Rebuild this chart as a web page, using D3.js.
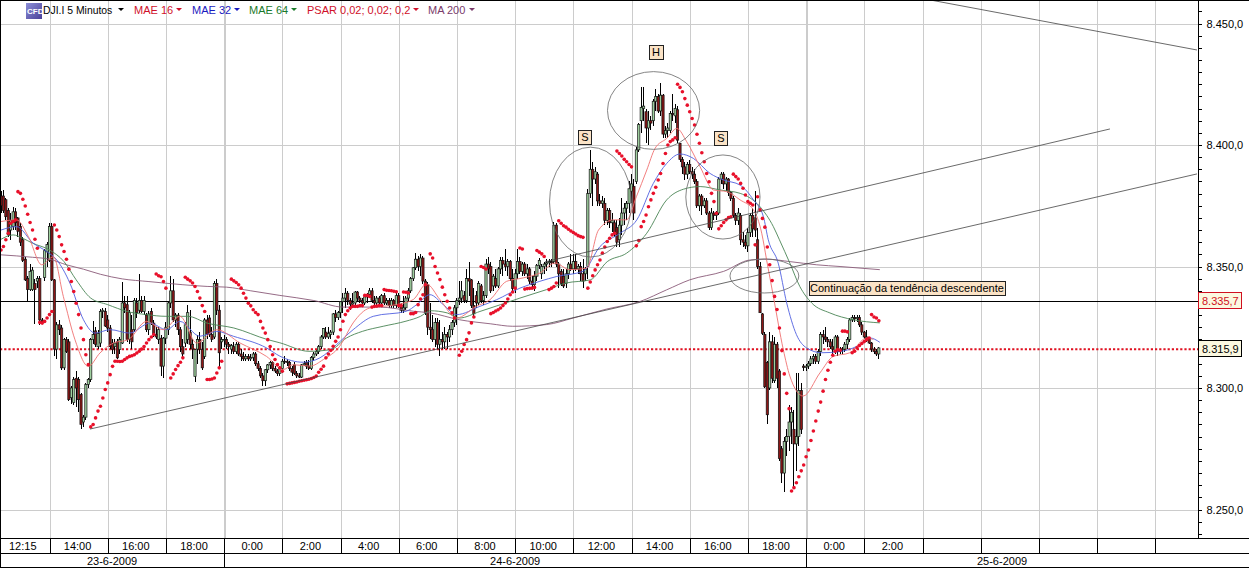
<!DOCTYPE html>
<html><head><meta charset="utf-8">
<script src="https://cdn.jsdelivr.net/npm/d3@7"></script>
<style>html,body{margin:0;padding:0;background:#fff;overflow:hidden}svg{display:block;font-family:"Liberation Sans",Arial,sans-serif}</style>
</head><body><svg id="c" width="1249" height="568"></svg>
<script>
const timeTicks=["14:00","16:00","18:00","0:00","2:00","4:00","6:00","8:00","10:00","12:00","14:00","16:00","18:00","0:00","2:00","","","","",""];
const firstLabel="12:15";
const dateLabels=["23-6-2009","24-6-2009","25-6-2009"];
const dateBreaks=[21+24*3,21+24*13];
const priceTicks=[8250,8300,8350,8400,8450];
const lastPrice=8335.7, bidPrice=8315.9;
const legendItems=[["MAE 16","#d0102a"],["MAE 32","#1a1ac0"],["MAE 64","#1a7a2a"],["PSAR 0,02; 0,02; 0,2","#d0102a"],["MA 200","#7a3a6a"]];
// open, high, low, close per 5-minute bar, starting at bar 1
const bars=[
[8379,8381,8372,8375],[8379,8381.5,8372,8373],[8377.5,8378,8369,8370.5],[8373,8374,8362,8363],[8365,8372,8361,8369],[8366.5,8374.5,8365,8372.5],[8372.5,8374,8365,8368],[8370,8370.5,8362,8364.5],
[8366.5,8368,8358.5,8360],[8361,8362,8352,8352.5],[8353,8354,8344,8344.5],[8345,8346,8336,8340.5],[8340.5,8351,8340,8348],[8340.5,8350,8340,8348.5],[8343,8345,8326.5,8340.5],[8344,8346,8341,8345],
[8345,8346,8326,8328],[8328,8329,8326.5,8327],[8345.5,8357,8344,8356.5],[8356,8360,8350,8359],[8352.5,8368,8352,8366.5],[8366.5,8368,8344,8344.5],[8344.5,8345,8313,8316],[8316,8327,8312,8326],
[8326,8328,8322,8324],[8324.7,8326,8307.5,8308.3],[8308.3,8320.5,8307.5,8320],[8320,8321,8314.5,8315],[8319,8320,8294.5,8295.2],[8296,8301,8293.5,8300],[8294,8304.5,8293,8303.5],[8304,8307,8292,8300],
[8303.5,8304.5,8290,8295.2],[8297.3,8298,8283,8285],[8286,8289,8284,8288],[8288,8302,8287,8301.5],[8301.5,8304,8300,8303.5],[8303.5,8320.5,8302.5,8319.9],[8320,8327.5,8318,8322],[8323.5,8325,8317,8318],
[8317,8324,8316,8322.5],[8318.5,8332.5,8317,8331.5],[8331.5,8333,8329,8332],[8331.5,8333,8325,8325.5],[8328,8330,8323,8324.7],[8324.7,8326,8316,8317],[8318.5,8320,8314,8315.8],[8317,8320,8314,8318.5],
[8319,8320,8312,8312.4],[8315.8,8321,8314,8320],[8318.5,8343.8,8318,8335],[8335,8338,8331,8333],[8334.3,8337.7,8319,8320],[8320,8332,8318,8331],[8324,8330,8316,8319],[8324,8337,8323,8336],
[8335,8337,8329,8331],[8332,8347,8331,8336],[8336,8338,8331,8331.5],[8331.5,8338,8330,8336],[8330,8331,8323,8324],[8324,8331.5,8322,8330.5],[8331.5,8333,8326,8327],[8326.7,8328,8321,8322],
[8322,8325,8320,8321],[8320,8325,8318,8324],[8320.5,8322,8305,8309],[8309,8321,8304,8320.5],[8320.5,8327,8318,8325],[8324,8336,8322,8335],[8335,8346,8333,8340],[8340,8345,8327,8328],
[8328,8331,8325,8330],[8330,8331,8322,8324],[8324,8325,8315,8317],[8317,8320,8312,8314],[8318.5,8327,8317,8326],[8320,8334,8318,8331],[8323,8332,8316,8318],[8318,8320,8312,8316],
[8304.8,8316,8302.5,8315.8],[8316,8322,8310,8319.9],[8319.9,8323,8314,8315.8],[8315.8,8319,8307.5,8308.3],[8313,8329,8312,8328],[8328,8330,8320,8322],[8328.8,8330,8321,8322],[8322,8325,8319,8320],
[8321,8344,8320,8343],[8343,8345,8330,8332],[8332,8334,8308,8314.5],[8319,8321,8316,8320],[8320,8322,8317,8320],[8320,8321,8316,8318],[8318,8319,8314,8317],[8316,8318,8314,8317.5],
[8317,8319,8314,8315],[8315,8319,8314,8318],[8318,8319,8313,8314],[8314,8316,8311,8313],[8313,8315,8311,8312],[8312,8314,8311,8313],[8313,8314,8311,8312],[8312,8314,8311,8312.5],
[8312.5,8315,8311,8314],[8314,8315,8309,8310],[8310,8311,8307,8308],[8308,8309,8304,8305],[8305,8306,8301,8303],[8303,8308,8301,8307.5],[8307.5,8310,8306,8309.5],[8309.5,8311,8308,8310.5],
[8310.5,8311,8307,8308],[8308,8309,8306,8307],[8307,8308,8305,8306],[8306,8309,8305,8308.5],[8308,8312,8306,8311],[8311,8313,8310,8311],[8311,8312,8309,8310.5],[8310.5,8311,8307,8308],
[8308,8309,8305,8306.5],[8309.5,8310.5,8305.5,8306],[8306,8307,8304,8305],[8305,8306,8304,8304.5],[8304.5,8310,8304,8309.5],[8309.5,8311,8309,8310],[8310.5,8311.5,8308,8309],[8309,8311.5,8307.5,8308],
[8308,8313,8307.5,8312.5],[8312.5,8315,8311,8314],[8314,8315.5,8313,8315],[8315,8317.5,8314,8317],[8317,8322,8316,8321],[8321,8324.5,8320,8324.5],[8323,8325,8320,8321],[8321,8325,8320,8322.5],
[8322,8324,8320,8323],[8323,8331,8322,8330.5],[8330.5,8332,8327,8329],[8329,8331.5,8328,8331],[8331,8336,8329,8335.5],[8335.5,8339,8331,8337],[8337,8341,8333,8339],[8339,8340,8334,8336],
[8336,8337,8332,8334.5],[8334.5,8339,8333,8335],[8335,8340,8334,8339.5],[8339.5,8340,8336,8337],[8337,8338,8335,8336],[8336,8337,8334,8335],[8335,8338,8334,8337.5],[8337.5,8339,8335,8338.5],
[8338.5,8341,8337,8340],[8340,8341,8335,8336],[8336,8338,8334,8335],[8335,8338,8334,8337],[8337,8338,8334,8335],[8335,8338.5,8334,8338],[8338,8339,8334,8335],[8335,8337,8334,8336],
[8336,8337,8333,8334],[8334,8337,8333,8336],[8336,8336.5,8333,8334],[8334,8339,8333,8338],[8338,8339,8333,8334],[8334,8335,8331,8332],[8332,8338,8331,8333],[8333,8338,8332,8337],
[8337,8341,8336,8340],[8340,8345.5,8339,8345],[8345,8350,8344,8349.5],[8349.5,8355.5,8348.5,8353],[8353,8354.5,8348,8350],[8350,8355,8346,8353.5],[8353.5,8354.5,8343,8344],[8344,8345,8330,8331],
[8342.5,8343.5,8322,8325],[8325,8335,8320,8324],[8324,8330,8319,8320],[8320,8329,8317,8327],[8327,8329,8316,8318],[8318,8328,8313,8320],[8320,8323,8316,8319],[8319,8325,8316,8322],
[8322,8323,8316,8321],[8321,8326,8319,8324],[8324,8328,8322,8327],[8327,8334,8325,8333],[8333,8337,8326,8336],[8336,8344,8334,8337],[8337,8344,8335,8340],[8338,8340,8335,8336],
[8336,8349,8335,8345],[8345,8352,8338,8344],[8344.5,8345,8333,8334],[8334,8341,8329,8330.5],[8338,8340,8333,8335],[8335,8344,8334,8343],[8342,8343,8335,8336],[8336,8340,8334,8338],
[8338,8353,8337,8351],[8351,8354,8347,8349],[8350,8352,8339,8340],[8342,8347,8340,8346],[8345,8349,8341,8342],[8342,8350,8341,8349],[8349,8354,8347,8352.5],[8352.5,8354,8346,8351],
[8351,8357,8348,8350],[8350,8353,8346,8352],[8352,8352.5,8344,8345],[8345,8349,8340,8341],[8341,8349,8339,8347],[8347,8357,8345,8352],[8352,8354,8347,8348],[8348,8352,8346,8351],
[8351,8352,8346,8347],[8347,8351,8345,8349],[8349,8350,8343,8344],[8344,8346,8341,8342.5],[8342.5,8348,8340,8346],[8346,8351,8344,8350.5],[8350.5,8353.5,8349,8352.5],[8347,8351,8345,8350],
[8350,8352,8347,8351],[8351,8353,8348,8351.5],[8351.5,8353,8350,8352],[8352,8353,8350,8351.5],[8352,8368.5,8351,8367],[8367,8368,8350,8351],[8351,8352,8341,8347],[8348,8349,8342,8343],
[8346,8349,8341,8342],[8343,8349,8341,8347],[8347,8352,8345,8351],[8351,8355,8348,8349],[8349,8355,8347,8352],[8352,8355,8348,8349],[8349,8351,8347,8350],[8350,8352,8344,8347],
[8347,8353,8341,8344],[8347,8350,8344,8349],[8350,8382,8345,8380],[8380,8398,8378,8390],[8390,8393,8375,8386],[8386,8391,8384,8389],[8388,8389,8375,8377],[8377,8380,8375,8376],
[8376,8379,8374,8377],[8376,8378,8367,8369],[8369,8374,8367,8373],[8373,8374,8366,8368],[8368,8372,8364,8369],[8368,8369,8362,8364],[8366,8369,8358,8360],[8361,8370,8358,8367],
[8367,8378,8363,8372],[8372,8376,8367,8374],[8374,8377,8369,8376],[8376,8385,8372,8382],[8381,8388,8376,8384],[8383,8386,8369,8372],[8385,8399,8384,8398],[8398,8409,8397,8408.5],
[8410,8424,8405,8415.5],[8415,8424,8410,8416],[8413.7,8415,8401,8407],[8407,8414,8400,8410],[8410,8412,8406,8409],[8410,8419,8408,8418],[8418,8423,8414,8420],[8420,8421,8413,8414],
[8414,8425.5,8412,8420.5],[8420.5,8421,8403,8404.5],[8404.5,8408,8403,8406],[8406,8409,8403,8407],[8406,8414,8405,8413],[8413,8421,8410,8412.5],[8412,8417,8409,8415],[8414.5,8416,8401,8402],
[8400.7,8401,8393,8394],[8394,8395,8388,8391],[8391,8393,8385.5,8388],[8388,8393,8386,8392],[8392,8394,8388,8389],[8389,8391,8386,8388],[8388,8390,8384,8385],[8385,8386,8374,8375],
[8375,8380,8373,8379],[8379,8380,8371,8375],[8375,8378,8374,8377],[8377,8378,8371,8372],[8372,8373,8365,8366],[8366,8374,8365,8372],[8372,8373,8369,8371],[8371,8373,8369,8372],
[8372,8387,8371,8386],[8386,8389,8384,8388],[8388,8389,8382,8384],[8384,8387,8381,8386],[8386,8386.5,8379,8380.5],[8380.5,8381,8377,8378],[8378,8379,8370,8371],[8371,8372,8367,8369],
[8369,8374,8367,8372],[8371,8372,8359,8361],[8361,8364,8358,8360],[8360,8363,8357,8358.5],[8358.5,8366,8356,8364],[8364,8372,8362,8371],[8371,8374,8362,8365.5],[8370,8381,8362,8365],
[8361,8366,8349,8350],[8350,8352,8331,8331],[8330.5,8331,8322,8322.5],[8322,8323,8300,8300.5],[8310.5,8311,8285,8289],[8300,8323,8299,8319],[8319,8322,8302,8304],[8303,8321,8302,8318],
[8318,8319,8300,8304],[8307,8308,8270,8271],[8275,8276,8261,8265],[8265,8280,8257,8278],[8278,8283,8272,8280],[8280,8293,8274,8286],[8286,8292,8277,8290],[8283,8291,8259,8277],
[8277,8306,8266,8280],[8280,8306,8276,8299],[8299,8302,8281,8283],[8309,8310,8307,8308.5],[8308.5,8310,8307,8309],[8309,8311,8308,8310],[8310,8313,8309,8312],[8312,8314,8310,8313],
[8313,8314,8310,8311],[8311,8316,8310,8315],[8315,8323,8313,8322],[8322,8324,8318,8321],[8321,8325,8319,8320],[8320,8321,8317,8319],[8319,8320,8316,8317],[8317,8320,8314,8316],
[8315,8322,8314,8321],[8321,8322,8313,8315],[8315,8317,8314,8316],[8316,8317,8314,8316],[8316,8319,8315,8318],[8318,8321,8316,8320],[8320,8329,8319,8328],[8328,8330,8327,8329],
[8329,8330,8327,8328.5],[8328.5,8330,8327,8329],[8329,8330,8325,8326],[8326,8327,8322,8323],[8323,8323.5,8320,8321],[8321,8324,8319,8320],[8320,8321,8318,8318.5],[8318.5,8319,8315,8316],
[8316,8317,8314,8315],[8315,8316,8313,8314],[8314,8317,8312,8316.5]];
const firstBar=1;
// moving averages: [bar index, price] pairs
const mae16=[[1,8368.5],[7.4,8369.2],[12.3,8362.3],[17.8,8350.7],[22.6,8354],[26.7,8337.7],[31.5,8319.9],[37,8308.9],[41.8,8314.4],[47.3,8318.5],[53.5,8319.9],[61,8327.4],[67.9,8324],[74.8,8329.5],[81.7,8318.5],[90,8324],[99.6,8318.5],[110.5,8313],[117.4,8307.6],[121.5,8309.6],[128.4,8309],[133.9,8311.7],[140.7,8317.2],[146.2,8326.8],[153,8332.9],[164,8334.3],[171,8336.4],[176.5,8342.8],[182,8336.4],[188.9,8328.8],[197,8333.6],[202.6,8336.3],[209.5,8343.9],[216.3,8345.3],[223.2,8347.3],[229.4,8351.4],[235.6,8348.7],[242.5,8349.3],[247.4,8365],[253.5,8369.2],[259,8369.2],[263,8378.7],[267.3,8389.7],[270.7,8398.6],[275.5,8402.7],[279.7,8406.8],[283.8,8401.3],[289.3,8391],[294.8,8381.5],[300.3,8380.8],[305.8,8377.4],[311.3,8373.3],[314.7,8363.7],[316.7,8352.8],[319.5,8337.7],[323.6,8315.8],[326.3,8304.9],[331.8,8296.7],[338.7,8306.2],[344.2,8313],[351,8314.5],[358,8320.6],[360.7,8320]];
const mae32=[[1,8365],[7.4,8366.4],[14.3,8359.6],[19.8,8356.2],[24,8352.7],[29.4,8343.2],[35,8328.1],[39.8,8322.6],[46,8324],[54,8322.6],[62.4,8326.7],[69.3,8324],[74.8,8327.4],[83,8321.3],[90,8323.3],[96.8,8321.3],[110.5,8316.5],[116,8313.1],[125.6,8310.6],[132.5,8312.4],[139.4,8317.9],[146.2,8324],[154.5,8329.5],[168.2,8331.6],[172.4,8334.3],[177.9,8338.4],[183.4,8334.3],[188.9,8330.2],[198.5,8333.6],[205.3,8336.3],[215,8341.1],[223.2,8343.9],[230.2,8345.9],[241,8348],[248,8358.2],[256.3,8363.7],[263.2,8369.2],[270,8384.2],[275.5,8392.4],[281,8396.3],[286.5,8394.5],[293.4,8388.3],[299,8385.6],[305.8,8383.5],[311.3,8377.4],[315.4,8370.5],[317.4,8361],[321.5,8351.4],[325,8335],[329,8322],[333.2,8316.5],[339.4,8314.5],[347,8315],[354,8317.2],[359.3,8320.6],[363.4,8318.8]];
const mae64=[[1,8361.2],[6,8363],[10,8361.6],[14,8359.6],[21,8356.8],[27,8352],[32,8344.5],[38,8337],[45,8334.3],[53,8331.5],[61,8330.2],[69,8329.5],[78,8329.5],[86,8326.7],[97,8324.7],[111,8319.9],[116,8318.6],[128,8315.1],[137,8315.8],[143.5,8320.6],[150,8323.3],[158.6,8325.4],[168,8327.5],[174,8329.5],[178,8331.8],[185,8330.9],[190,8328.8],[198.5,8331.5],[207,8334.3],[215,8337],[226,8340.5],[234,8343.2],[244,8344.5],[251,8352],[259,8355.5],[267.3,8363.7],[275.5,8377.4],[282.4,8381.8],[289.3,8382.9],[297.5,8381.5],[305.8,8380.1],[314,8374.6],[319.5,8366.4],[322,8361],[326.3,8351.4],[330.4,8341.8],[335.3,8335],[342.8,8330.9],[352.4,8328.1],[363.4,8326.8]];
const ma200=[[1,8354.8],[14,8353.8],[21,8353],[28,8350.7],[35,8348.9],[42,8346.8],[51,8344.9],[62,8343.8],[76,8342.5],[86,8341.8],[94,8341.5],[104,8340],[116,8338.1],[130,8336],[142,8333.3],[157,8333.3],[171,8331.6],[178,8330.9],[190,8328.1],[203,8326.4],[212,8325.4],[226,8326.1],[237,8328.8],[250.8,8332.5],[264.5,8335.6],[275.5,8340.4],[285,8344.5],[299,8348],[310,8352.7],[316.8,8353],[326.4,8352],[337.4,8350.7],[347,8350],[363.4,8348.7]];
// parabolic SAR: [first bar, values of consecutive bars]
const psarRuns=[
[1,[8356.8,8358.2,8361,8363.7,8367.8,8368.5,8369.2]],
[8,[8380.8,8380.1,8377.7,8374.9,8371.5,8368.1,8365,8361.2,8357.5]],
[17,[8327,8326.7,8327.4,8328.8,8330.2,8331.5]],
[23,[8367.1,8365,8362.3,8358.9,8356.2,8353,8348.9,8343.8,8339.7,8334.9,8330.2,8324.7,8319.9,8313.7,8309.6]],
[38,[8284,8285,8287.7,8290.5,8292.5,8295.9,8299.4,8302.1,8305.5,8308.9,8311,8311,8310.9,8311,8311.7,8312.4,8313,8313.3,8313.7,8314.4,8315.1,8316,8317.1,8318.5,8319.9,8321,8322]],
[65,[8346.9,8346.2,8345.8,8343.8,8341.1]],
[71,[8304.1,8305.8,8307.6,8309.2,8310.6,8312.4]],
[77,[8345.6,8344.8,8344.1,8343.2,8341.8,8339.7,8337,8333.9,8331.5]],
[86,[8303.5,8303.5,8303.7,8304.1,8306.2,8308.3,8311]],
[96,[8344.8,8344.1,8343.4,8342.5,8341.1,8339,8337,8334.9,8333.8,8332.2,8331.1,8330.2,8327.4,8324.7,8322.6,8319.9,8317.1,8313.7,8311.7,8309.6,8308.3,8306.9]],
[119,[8301.7,8301.9,8302.1,8302.3,8302.5,8302.8,8303,8303.2,8303.4,8303.6,8303.9,8304.3,8304.9,8306.5,8307.7,8309,8312.4,8314,8315.5,8317.2,8319.2,8321,8324,8327.5,8330.2,8331.8,8332.9,8333.6,8333.6,8333.6,8333.9,8333.9]],
[151,[8338.1,8338.1,8337.7]],
[154,[8333.3,8333.6,8333.7,8333.9,8333.9]],
[159,[8340.5,8340.2,8340.1,8340,8339.8,8339.6]],
[165,[8333.9,8333.9]],
[167,[8339.5,8339.4,8339.1]],
[170,[8330.6,8330.6,8331.1,8334.3,8336.6,8338.4,8342.5]],
[178,[8355.2,8353.5,8350,8347.3,8344.6,8341.5,8338.4,8335.7,8332.9,8330.9,8328.8]],
[190,[8313.5,8315.1,8317.9,8319.9,8322.7,8326.8,8329.2]],
[199,[8350,8349.6,8349]],
[203,[8330.6,8331.1,8331.7,8332.2,8332.9,8333.9,8335,8336.6,8338.4,8339.5,8341.1]],
[215,[8357.6,8357.2]],
[217,[8340.7,8340.9,8341,8341.1,8341.4]],
[222,[8356.6,8355.9,8355.2,8354.1]],
[227,[8340.5,8341.1,8341.8,8343.2]],
[231,[8368.8,8367.8,8366.8,8366.2,8365.3,8364.6,8364,8363.4,8362.7,8362.3,8362]],
[243,[8341.1,8343.6,8346.2,8348.6,8350.7,8352.7,8355.5,8358,8360.3,8361.6,8363,8363.7]],
[255,[8397.5,8396.5,8395.5,8394.1,8393.1,8392,8391]],
[263,[8358.5,8360.7,8366.4,8368.5,8371.2,8374.6,8377.4,8380.1,8382.6,8385.6,8388.3,8392.4,8396.5,8400,8401.4,8402.1,8403]],
[280,[8425,8423.7,8421.9,8419.1,8416.4,8413.7,8410.9,8408.2,8404.4,8400.7,8396.8,8393.1,8388.3,8384.9,8380.1,8376.7,8371.9]],
[297,[8365.5,8366.8,8368.1,8369.2,8370.1,8370.5]],
[303,[8388,8387,8386,8384.2,8382.2,8379.4,8376.7,8376,8375.3]],
[312,[8358.9]],
[313,[8378.7,8373.3,8369.8,8366.2,8358,8350.7,8344.2,8337.7,8332.3,8324.7,8315.4,8305.8,8297.8,8291.5]],
[327,[8257.6,8259,8261,8263.5,8265.9,8268.3,8271.7,8274.5,8278.4,8282.3,8286.4,8290.5,8294.2,8298.7,8303.5,8307.3,8310.6,8313.5,8315.1,8315.8,8315.5]],
[348,[8323.4,8323.4,8323.1]],
[352,[8314.5,8315.1,8316.5,8317.5,8318.3,8319.1,8319.9,8320.6]],
[360,[8330.2,8329.2,8328.8,8327.7]]];
// drawn objects, in bar index and price
const trendLines=[[37.7,8283.1,494.2,8388.1],[225.3,8351.9,458.3,8406.6],[384.1,8459.7,494.2,8439.1]];
const ellipses=[[244.1,8376.5,16.9,22.6],[270.1,8414.2,19,16],[298.7,8378.6,15.3,17.3],[315.8,8346.1,14.2,7]];
const notes=[["S",241.8,8403.3,"middle"],["H",271.1,8438.3,"middle"],["S",297.9,8402.9,"middle"],["Continuação da tendência descendente",334.6,8341.2,"start"]];

const W=1249,plotR=1198,plotB=538,row2=553,H=567;
const x=d3.scaleLinear().domain([21,21+24*20]).range([49.5,49.5+58.2*20]);
const y=d3.scaleLinear().domain([8250,8450]).range([509.5,23.5]);
const svg=d3.select("#c");
const px=v=>Math.round(v)+.5;
const grid=svg.append("g").attr("shape-rendering","crispEdges");
const tickIdx=timeTicks.map((_,k)=>21+24*k);
grid.selectAll("line.v").data(tickIdx).join("line").attr("x1",d=>px(x(d))).attr("x2",d=>px(x(d))).attr("y1",0).attr("y2",plotB).attr("stroke","#cccccc").attr("stroke-width",d=>dateBreaks.includes(d)?2:1);
grid.selectAll("line.h").data(priceTicks).join("line").attr("x1",0).attr("x2",plotR).attr("y1",d=>px(y(d))).attr("y2",d=>px(y(d))).attr("stroke","#cccccc");
// price reference lines
svg.append("line").attr("x1",0).attr("x2",plotR).attr("y1",px(y(lastPrice))).attr("y2",px(y(lastPrice))).attr("stroke","#000").attr("shape-rendering","crispEdges");
svg.append("line").attr("x1",0).attr("x2",plotR).attr("y1",y(bidPrice)).attr("y2",y(bidPrice)).attr("stroke","#e01020").attr("stroke-width",2).attr("stroke-dasharray","2.2 2");
// candles
const data=bars.map((b,k)=>({i:firstBar+k,o:b[0],h:b[1],l:b[2],c:b[3]}));
const cg=svg.append("g");
const wx=d=>Math.round(x(d.i)-0.5)+.5;
cg.selectAll("line").data(data).join("line").attr("x1",wx).attr("x2",wx).attr("y1",d=>y(d.h)).attr("y2",d=>y(d.l)).attr("stroke","#000").attr("shape-rendering","crispEdges");
cg.selectAll("rect").data(data).join("rect").attr("x",d=>x(d.i)-1.1).attr("width",2.2)
 .attr("y",d=>y(Math.max(d.o,d.c))).attr("height",d=>Math.max(.8,Math.abs(y(d.o)-y(d.c))))
 .attr("fill",d=>d.c>=d.o?"#9fd09f":"#8e1616").attr("stroke","#111").attr("stroke-width",.7);
// moving averages
const line=d3.line().x(d=>x(d[0])).y(d=>y(d[1])).curve(d3.curveMonotoneX);
[[ma200,"#8a5a78"],[mae64,"#4a8555"],[mae32,"#5060e0"],[mae16,"#ef7070"]].forEach(([s,col])=>{
 svg.append("path").attr("d",line(s)).attr("fill","none").attr("stroke",col).attr("stroke-width",.9);
});
// PSAR
const psar=psarRuns.flatMap(([s,v])=>v.map((p,k)=>[s+k,p]));
svg.append("g").selectAll("circle").data(psar).join("circle").attr("cx",d=>x(d[0])).attr("cy",d=>y(d[1])).attr("r",1.8).attr("fill","#e8102a");
// trend lines and ellipses
svg.append("g").selectAll("line").data(trendLines).join("line").attr("x1",d=>x(d[0])).attr("y1",d=>y(d[1])).attr("x2",d=>x(d[2])).attr("y2",d=>y(d[3])).attr("stroke","#444").attr("stroke-width",.8);
svg.append("g").selectAll("ellipse").data(ellipses).join("ellipse").attr("cx",d=>x(d[0])).attr("cy",d=>y(d[1])).attr("rx",d=>x(d[2])-x(0)).attr("ry",d=>y(8300-d[3])-y(8300)).attr("fill","none").attr("stroke","#666").attr("stroke-width",.8);
// notes
const ng=svg.append("g");
notes.forEach(n=>{
 const g=ng.append("g");
 const t=g.append("text").attr("x",x(n[1])).attr("y",y(n[2])).attr("text-anchor",n[3]).attr("dominant-baseline","central").attr("font-size",11).attr("fill","#000").text(n[0]);
 const b=t.node().getBBox();
 const padX=n[3]=="start"?1:3;
 g.insert("rect","text").attr("x",Math.round(b.x-padX)+.5).attr("y",Math.round(y(n[2])-7)+.5).attr("width",Math.round(b.width+padX*2)).attr("height",14).attr("fill","#fbe3c6").attr("stroke","#222").attr("shape-rendering","crispEdges");
});
// clear axis zones
svg.append("rect").attr("x",plotR+1).attr("y",0).attr("width",W-plotR).attr("height",plotB).attr("fill","#fff");
svg.append("rect").attr("x",0).attr("y",plotB).attr("width",W).attr("height",H-plotB+1).attr("fill","#fff");
// right axis
const f=d3.formatLocale({decimal:",",thousands:".",grouping:[3],currency:["",""]}).format(",.1f");
const minor=d3.range(8235,8460,5).filter(v=>y(v)>2&&y(v)<plotB);
const ax=svg.append("g").attr("transform",`translate(${plotR+.5},0)`);
ax.call(d3.axisRight(y).tickValues(minor).tickSize(3).tickFormat(""));
ax.select(".domain").remove();
ax.attr("shape-rendering","crispEdges");
svg.append("line").attr("x1",plotR+.5).attr("x2",plotR+.5).attr("y1",0).attr("y2",plotB).attr("stroke","#000").attr("shape-rendering","crispEdges");
const labAx=svg.append("g").attr("transform",`translate(${plotR+.5},0)`).call(d3.axisRight(y).tickValues(priceTicks).tickSize(3).tickPadding(5).tickFormat(f));
labAx.select(".domain").remove();
labAx.selectAll("text").attr("font-size",11).attr("font-family",'"Liberation Sans",Arial,sans-serif').attr("fill","#000");
labAx.attr("shape-rendering","crispEdges");
[[lastPrice,"#d01020"],[bidPrice,"#000"]].forEach(([v,c])=>{
 const yy=Math.round(y(v));
 svg.append("rect").attr("x",plotR+.5).attr("y",yy-8.5).attr("width",43).attr("height",16).attr("fill","#fbf8e0").attr("stroke",c).attr("shape-rendering","crispEdges");
 svg.append("text").attr("x",plotR+4).attr("y",yy).attr("dominant-baseline","central").attr("font-size",11).attr("fill",c).text(f(v));
});
// frame
const fr=svg.append("g").attr("shape-rendering","crispEdges").attr("stroke","#000");
fr.append("line").attr("x1",0).attr("x2",W).attr("y1",.5).attr("y2",.5);
fr.append("line").attr("x1",.5).attr("x2",.5).attr("y1",0).attr("y2",H+1);
fr.append("line").attr("x1",0).attr("x2",W).attr("y1",plotB+.5).attr("y2",plotB+.5);
fr.append("line").attr("x1",0).attr("x2",W).attr("y1",row2+.5).attr("y2",row2+.5);
fr.append("line").attr("x1",0).attr("x2",W).attr("y1",H+.5).attr("y2",H+.5);
fr.selectAll("line.tk").data(tickIdx).join("line").attr("x1",d=>px(x(d))).attr("x2",d=>px(x(d))).attr("y1",plotB).attr("y2",row2);
fr.selectAll("line.dk").data(dateBreaks).join("line").attr("x1",d=>px(x(d))).attr("x2",d=>px(x(d))).attr("y1",row2).attr("y2",H);
// bottom labels
const tl=svg.append("g").attr("font-size",11).attr("fill","#000").attr("text-anchor","middle");
tl.append("text").attr("x",x(21)/2-2).attr("y",545.5).attr("dominant-baseline","central").text(firstLabel);
tl.selectAll("text.t").data(timeTicks).join("text").attr("x",(d,k)=>x(tickIdx[k]+12)-1).attr("y",545.5).attr("dominant-baseline","central").text(d=>d);
const spans=[0,x(dateBreaks[0]),x(dateBreaks[1]),plotR];
tl.selectAll("text.d").data(dateLabels).join("text").attr("x",(d,k)=>(spans[k]+spans[k+1])/2).attr("y",561).attr("dominant-baseline","central").text(d=>d);
// legend
const lg=svg.append("g").attr("font-size",11);
const defs=svg.append("defs").append("linearGradient").attr("id","ic").attr("x1",0).attr("x2",1).attr("y1",0).attr("y2",1);
defs.append("stop").attr("offset",0).attr("stop-color","#8c8fd8");defs.append("stop").attr("offset",1).attr("stop-color","#4a3f98");
lg.append("rect").attr("x",26).attr("y",3).attr("width",16).attr("height",16).attr("fill","url(#ic)");
lg.append("text").attr("x",27).attr("y",14).attr("font-size",8).attr("font-weight","bold").attr("fill","#fff").text("CFD");
const tri=(xx,c)=>lg.append("path").attr("d",`M${xx-3},8 L${xx+3},8 L${xx},11 Z`).attr("fill",c);
lg.append("text").attr("x",43).attr("y",10).attr("dominant-baseline","central").attr("fill","#000").attr("font-size",10.4).text("DJI.I 5 Minutos");
tri(121,"#000");
const legendX=[134,192,249,307,428], triX=[179,237,294,416,472];
legendItems.forEach(([t,c],k)=>{
 lg.append("text").attr("x",legendX[k]).attr("y",10).attr("dominant-baseline","central").attr("fill",c).text(t);
 tri(triX[k],c);
});
</script></body></html>
